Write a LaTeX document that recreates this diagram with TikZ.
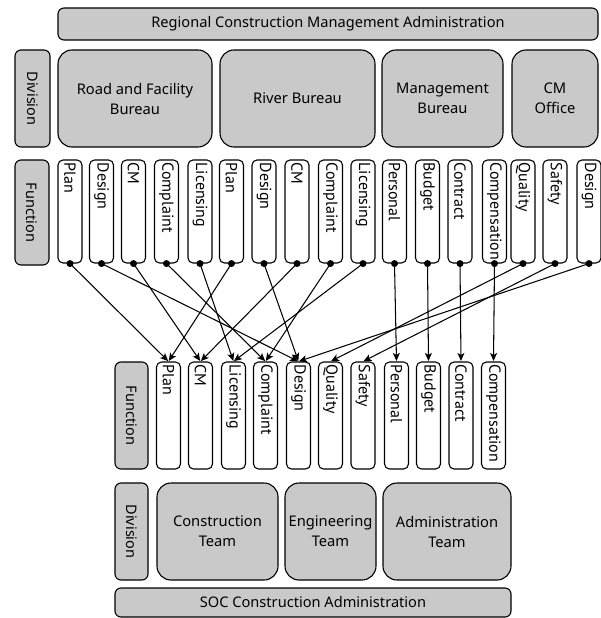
\documentclass[tikz,border=0pt]{standalone}
\usepackage{fontspec}
\setmainfont{Noto Sans}
\newfontfamily\fnfont{PT Sans}
\usetikzlibrary{arrows.meta}
\definecolor{boxgray}{RGB}{201,201,201}
\begin{document}
\begin{tikzpicture}[x=1pt,y=-1pt,
  every node/.style={inner sep=0pt},
  banner/.style={draw=black, line width=1.1pt, fill=boxgray, rounded corners=6pt,
    font=\fontsize{14.6}{17}\selectfont},
  unit/.style={draw=black, line width=1.1pt, fill=boxgray, rounded corners=14pt,
    align=center, font=\fontsize{14.7}{20}\selectfont},
  sidelabel/.style={draw=black, line width=1.1pt, fill=boxgray, rounded corners=6pt},
  sidetext/.style={rotate=-90, font=\fontsize{14.5}{16}\selectfont},
  fbox/.style={draw=black, line width=1.1pt, fill=white, rounded corners=5pt,
    minimum width=24pt},
  ftext/.style={rotate=-90, anchor=west, font=\fnfont\fontsize{16}{18}\selectfont},
  link/.style={line width=1.05pt, -{Stealth[length=8pt,width=7pt,inset=2pt]}, shorten >=0.5pt},
  dot/.style={circle, fill=black, minimum size=7pt}
]
\useasboundingbox (0,0) rectangle (600,618);

% upper organisation
\node[banner, minimum width=540pt, minimum height=32pt] (rcma) at (328,24)
  {Regional Construction Management Administration};
\node[sidelabel, minimum width=35pt, minimum height=97pt] (udiv) at (32.5,98.5) {};
\node[sidetext] (udivt) at (udiv.center) {Division};
\node[unit, minimum width=154pt, minimum height=97pt] (road) at (135,98.5)
  {Road and Facility\\Bureau};
\node[unit, minimum width=155pt, minimum height=97pt] (river) at (297.5,98.5)
  {River Bureau};
\node[unit, minimum width=121pt, minimum height=97pt] (mgmt) at (442.5,98.5)
  {Management\\Bureau};
\node[unit, minimum width=86pt, minimum height=97pt] (cmo) at (555,98.5)
  {CM\\Office};

\node[sidelabel, minimum width=34pt, minimum height=105pt] (ufun) at (32,212.5) {};
\node[sidetext] (ufunt) at (ufun.center) {Function};
\foreach \x/\n/\t in {70/1/Plan, 101.5/2/Design, 133.5/3/CM, 166.5/4/Complaint,
    200/5/Licensing, 231.5/6/Plan, 264/7/Design, 297/8/CM, 330.5/9/Complaint,
    363/10/Licensing, 394.5/11/Personal, 427.5/12/Budget, 460/13/Contract,
    494.5/14/Compensation, 523/15/Quality, 555/16/Safety, 589/17/Design} {
  \node[fbox, minimum height=103pt] (t\n) at (\x,211.5) {};
  \node[ftext] (tl\n) at ([yshift=-3pt]t\n.north) {\t};
}

% lower organisation
\node[sidelabel, minimum width=33pt, minimum height=107pt] (lfun) at (131.5,415.5) {};
\node[sidetext] (lfunt) at (lfun.center) {Function};
\foreach \x/\n/\t in {168.5/1/Plan, 200.5/2/CM, 233.5/3/Licensing, 265.5/4/Complaint,
    298.5/5/Design, 330.5/6/Quality, 363/7/Safety, 396.5/8/Personal,
    428.5/9/Budget, 461/10/Contract, 493.5/11/Compensation} {
  \node[fbox, minimum height=107pt] (b\n) at (\x,415.5) {};
  \node[ftext] (bl\n) at ([yshift=-3pt]b\n.north) {\t};
}

\node[sidelabel, minimum width=33pt, minimum height=97pt] (ldiv) at (131.5,531.5) {};
\node[sidetext] (ldivt) at (ldiv.center) {Division};
\node[unit, minimum width=121pt, minimum height=97pt] (cons) at (217.5,531.5)
  {Construction\\Team};
\node[unit, minimum width=91pt, minimum height=97pt] (eng) at (330.5,531.5)
  {Engineering\\Team};
\node[unit, minimum width=128pt, minimum height=97pt] (adm) at (447,531.5)
  {Administration\\Team};
\node[banner, minimum width=396pt, minimum height=29pt] (soc) at (313,602.5)
  {SOC Construction Administration};

% function transfers
\foreach \s/\e in {1/1, 2/5, 3/2, 4/4, 5/3, 6/1, 7/5, 8/2, 9/4, 10/3,
    11/8, 12/9, 13/10, 14/11, 15/6, 16/7, 17/5} {
  \draw[link] (t\s.south) -- (b\e.north);
}
\foreach \s in {1,...,17} {
  \node[dot] (d\s) at (t\s.south) {};
}
\end{tikzpicture}
\end{document}
